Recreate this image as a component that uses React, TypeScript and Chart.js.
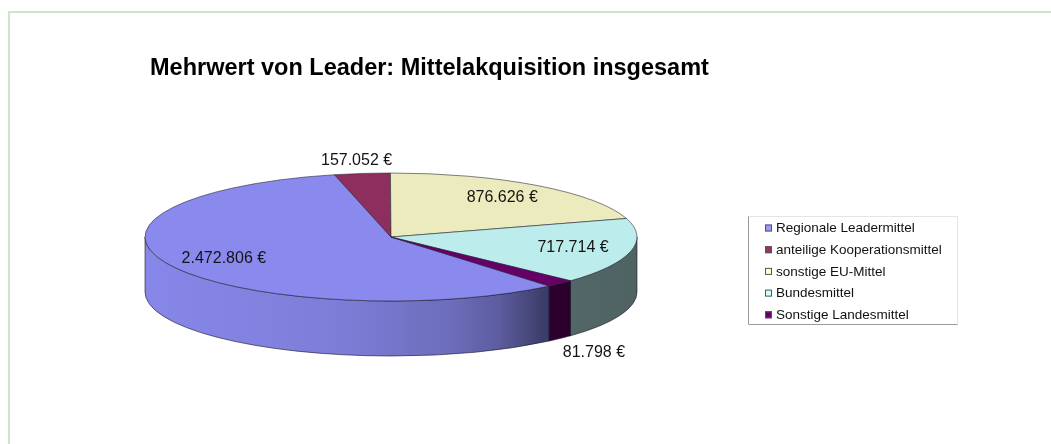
import React, { useEffect, useRef } from "react";
import { Chart, registerables } from "chart.js";

Chart.register(...registerables);

// ---------- data ----------
const TITLE = "Mehrwert von Leader: Mittelakquisition insgesamt";
const categories = [
  "Regionale Leadermittel",
  "anteilige Kooperationsmittel",
  "sonstige EU-Mittel",
  "Bundesmittel",
  "Sonstige Landesmittel",
];
const amounts = [2472806, 157052, 876626, 717714, 81798];
const topColors = ["#8a8aee", "#8e2e5e", "#ebebbd", "#bcecec", "#660066"];
const legendColors = ["#9999ff", "#993366", "#ffffcc", "#ccffff", "#660066"];
const FIRST_SLICE_ANGLE = 140;

// ---------- layout ----------
const W = 1051;
const H = 444;
const CX = 391;
const CY = 237;
const RX = 246;
const RY = 64;
const DEPTH = 55;
const FONT = '"Liberation Sans", Arial, Helvetica, sans-serif';
// wall shading along x (t: 0 = left edge of pie, 1 = right edge)
const SHADE_STOPS: [number, number][] = [
  [0, 0.98],
  [0.38, 0.91],
  [0.62, 0.79],
  [0.72, 0.67],
  [0.78, 0.52],
  [0.81, 0.44],
  [1, 0.42],
];

function formatEuro(v: number): string {
  const s = String(Math.round(v));
  let out = "";
  for (let i = 0; i < s.length; i++) {
    const fromEnd = s.length - i;
    out += s[i];
    if (fromEnd > 1 && (fromEnd - 1) % 3 === 0) out += ".";
  }
  return out + " €";
}

function shade(hex: string, f: number): string {
  const n = parseInt(hex.slice(1), 16);
  const r = Math.round(((n >> 16) & 255) * f);
  const g = Math.round(((n >> 8) & 255) * f);
  const b = Math.round((n & 255) * f);
  return `rgb(${r},${g},${b})`;
}

const TWO_PI = Math.PI * 2;

const pie3dPlugin = {
  id: "pie3d",
  beforeDatasetsDraw(chart: any) {
    const ctx: CanvasRenderingContext2D = chart.ctx;
    const meta = chart.getDatasetMeta(0);
    const arcs = meta.data as any[];
    const values = chart.data.datasets[0].data as number[];
    const total = values.reduce((a, b) => a + b, 0);
    const slices = arcs.map((arc, i) => {
      const p = arc.getProps(["startAngle", "endAngle"], true);
      return { s: p.startAngle as number, e: p.endAngle as number, i };
    });

    ctx.save();
    // ---- side walls (front half: screen angles 0..PI) ----
    slices.forEach(({ s, e, i }) => {
      for (let k = -1; k <= 2; k++) {
        const lo = Math.max(s, k * TWO_PI);
        const hi = Math.min(e, k * TWO_PI + Math.PI);
        if (hi <= lo) continue;
        const grad = ctx.createLinearGradient(CX - RX, 0, CX + RX, 0);
        SHADE_STOPS.forEach(([t, f]) => grad.addColorStop(t, shade(topColors[i], f)));
        ctx.beginPath();
        ctx.ellipse(CX, CY, RX, RY, 0, lo, hi, false);
        ctx.lineTo(CX + RX * Math.cos(hi), CY + RY * Math.sin(hi) + DEPTH);
        ctx.ellipse(CX, CY + DEPTH, RX, RY, 0, hi, lo, true);
        ctx.closePath();
        ctx.fillStyle = grad;
        ctx.fill();
        ctx.lineWidth = 0.8;
        ctx.strokeStyle = "rgba(20,20,40,0.75)";
        ctx.stroke();
      }
    });

    // ---- top faces ----
    slices.forEach(({ s, e, i }) => {
      ctx.beginPath();
      ctx.moveTo(CX, CY);
      ctx.ellipse(CX, CY, RX, RY, 0, s, e, false);
      ctx.closePath();
      ctx.fillStyle = topColors[i];
      ctx.fill();
      ctx.lineWidth = 0.8;
      ctx.strokeStyle = "rgba(30,30,50,0.7)";
      ctx.stroke();
    });

    // ---- value labels ----
    ctx.font = `16px ${FONT}`;
    ctx.fillStyle = "#141414";
    ctx.textAlign = "center";
    ctx.textBaseline = "middle";
    slices.forEach(({ s, e, i }) => {
      const mid = (s + e) / 2;
      const frac = values[i] / total;
      let x: number;
      let y: number;
      if (frac < 0.05) {
        x = CX + RX * 1.2 * Math.cos(mid);
        y = CY + RY * 1.2 * Math.sin(mid);
        if (Math.sin(mid) > 0) y += DEPTH + 5;
      } else {
        x = CX + RX * 0.76 * Math.cos(mid);
        y = CY + RY * 0.76 * Math.sin(mid);
      }
      ctx.fillText(formatEuro(values[i]), x, y);
    });
    ctx.restore();
    return false;
  },
  afterDraw(chart: any) {
    const ctx: CanvasRenderingContext2D = chart.ctx;
    ctx.save();
    // title
    ctx.font = `bold 23.5px ${FONT}`;
    ctx.fillStyle = "#000";
    ctx.textAlign = "left";
    ctx.textBaseline = "alphabetic";
    ctx.fillText(TITLE, 150, 75);

    // legend box
    const bx = 748.5, by = 216.5, bw = 209, bh = 108;
    ctx.lineWidth = 1;
    ctx.strokeStyle = "#e4e4e4";
    ctx.beginPath();
    ctx.moveTo(bx, by);
    ctx.lineTo(bx + bw, by);
    ctx.lineTo(bx + bw, by + bh);
    ctx.stroke();
    ctx.strokeStyle = "#9a9a9a";
    ctx.beginPath();
    ctx.moveTo(bx, by);
    ctx.lineTo(bx, by + bh);
    ctx.lineTo(bx + bw, by + bh);
    ctx.stroke();

    const labels = chart.data.labels as string[];
    ctx.font = `13.5px ${FONT}`;
    ctx.textBaseline = "middle";
    labels.forEach((lab, i) => {
      const y = 228 + i * 21.7;
      ctx.fillStyle = legendColors[i];
      ctx.fillRect(765, y - 3.5, 7, 7);
      ctx.strokeStyle = "#555";
      ctx.lineWidth = 1;
      ctx.strokeRect(765.5, y - 3, 6, 6);
      ctx.fillStyle = "#111";
      ctx.fillText(lab, 776, y + 0.5);
    });
    ctx.restore();
  },
};

export default function App() {
  const ref = useRef<HTMLCanvasElement | null>(null);
  useEffect(() => {
    document.body.style.margin = "0";
    const canvas = ref.current;
    if (!canvas) return;
    const chart = new Chart(canvas, {
      type: "pie",
      data: {
        labels: categories,
        datasets: [
          {
            data: amounts,
            backgroundColor: topColors,
            borderWidth: 0,
          },
        ],
      },
      options: {
        responsive: false,
        animation: false,
        events: [],
        rotation: FIRST_SLICE_ANGLE,
        plugins: {
          legend: { display: false },
          title: { display: false },
          tooltip: { enabled: false },
        },
      },
      plugins: [pie3dPlugin as any],
    });
    return () => chart.destroy();
  }, []);

  return (
    <div style={{ position: "relative", width: W, height: H, background: "#fff", overflow: "hidden" }}>
      <canvas ref={ref} width={W} height={H} style={{ position: "absolute", left: 0, top: 0 }} />
      <div
        style={{
          position: "absolute",
          left: 8,
          top: 11,
          width: W,
          height: H,
          borderTop: "2px solid #cfe5c8",
          borderLeft: "2px solid #cfe5c8",
          pointerEvents: "none",
        }}
      />
    </div>
  );
}
